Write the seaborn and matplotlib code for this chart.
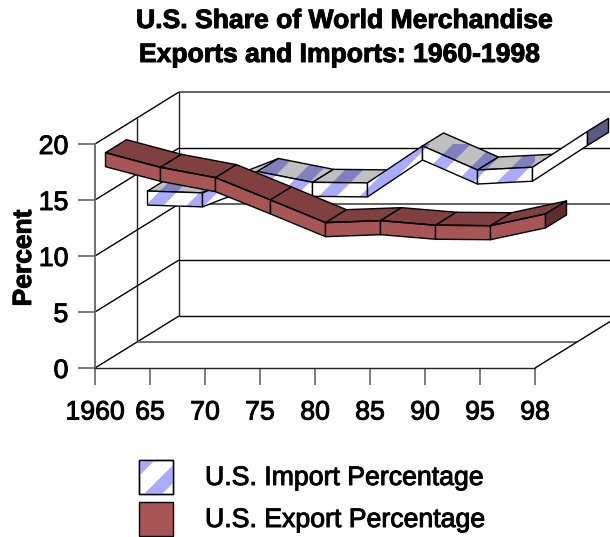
import matplotlib
matplotlib.use('Agg')
import matplotlib.pyplot as plt
import matplotlib.patheffects as pe
from matplotlib.patches import Polygon, PathPatch, Rectangle
from matplotlib.path import Path
from matplotlib.transforms import IdentityTransform
import numpy as np
import pandas as pd
import seaborn as sns

year_labels = ['1960', '65', '70', '75', '80', '85', '90', '95', '98']
import_share = [12.27, 12.11, 14.02, 13.05, 13.0, 16.3, 14.15, 14.4, 17.6]
export_share = [18.02, 16.71, 15.79, 13.8, 11.77, 11.95, 11.54, 11.5, 12.55]
y_ticks = [0, 5, 10, 15, 20]
legend_labels = ['U.S. Import Percentage', 'U.S. Export Percentage']

W, H = 610, 537
PX_X, PX_Y = 55.0, 11.2          # pixels per category / per percent
DEPTH_X, DEPTH_Y = 84 / PX_X, 52 / PX_Y   # whole chart depth in data units
THICK = 0.625

sns.set_theme(style='white')
plt.rcParams['font.family'] = ['Liberation Sans', 'DejaVu Sans']
plt.rcParams['text.color'] = 'black'
plt.rcParams['axes.labelcolor'] = 'black'
plt.rcParams['xtick.color'] = 'black'
plt.rcParams['ytick.color'] = 'black'

HEAVY = [pe.withStroke(linewidth=0.7, foreground='black')]

fig = plt.figure(figsize=(W / 100, H / 100), dpi=100)
ax = fig.add_axes([95 / W, (H - 368) / H, 440 / W, 224 / H])
ax.set_xlim(0, 8)
ax.set_ylim(0, 20)


def project(x, y, d):
    return (x + d * DEPTH_X, y + d * DEPTH_Y)


def wall_line(x, y, color='#000000', lw=1.0):
    ax.plot(x, y, color=color, lw=lw, clip_on=False, zorder=1, solid_capstyle='butt')


# walls and gridlines
for v in y_ticks:
    x0, y0 = project(0, v, 0)
    x1, y1 = project(0, v, 1)
    wall_line([x0, x1], [y0, y1])
    if v > 0:
        c = '#555555' if v in (10, 20) else '#000000'
        wall_line([x1, x1 + 9], [y1, y1], color=c, lw=1.3 if v in (10, 20) else 1.0)
for d in (0.5, 1):
    x0, y0 = project(0, 0, d)
    x1, y1 = project(0, 20, d)
    wall_line([x0, x1], [y0, y1], color='#222222')
xm, ym = project(0, 0, 0.5)
wall_line([xm, xm + 8], [ym, ym], color='#666666', lw=1.3)
xb, yb = project(0, 0, 1)
wall_line([xb, xb + 9], [yb, yb])
xr, yr = project(8, 0, 0.9)
wall_line([8, xr], [0, yr])


def stripes():
    verts, codes = [], []
    for s in np.arange(360 - 41 * 6, 1200, 41):
        a, b = s - 9, s + 9
        pts = [(0, a), (0, b), (W, b - W), (W, a - W), (0, a)]
        verts += [(px, H - py) for px, py in pts]
        codes += [Path.MOVETO, Path.LINETO, Path.LINETO, Path.LINETO, Path.CLOSEPOLY]
    return Path(verts, codes)


STRIPE_PATH = stripes()


def face(pts, fill, stripe, z):
    p = Polygon(pts, closed=True, facecolor=fill, edgecolor='none', clip_on=False, zorder=z)
    ax.add_patch(p)
    if stripe is not None:
        sp = PathPatch(STRIPE_PATH, facecolor=stripe, edgecolor='none',
                       transform=IdentityTransform(), zorder=z)
        ax.add_patch(sp)
        sp.set_clip_path(p)
    edge = Polygon(pts, closed=True, facecolor='none', edgecolor='black', lw=1.0,
                   clip_on=False, zorder=z, joinstyle='round')
    ax.add_patch(edge)


def ribbon(values, d0, d1, colors, z):
    front, top, cap = colors
    for i in range(len(values) - 1):
        a, b = values[i], values[i + 1]
        f0 = project(i, a + THICK, d0)
        f1 = project(i + 1, b + THICK, d0)
        b0 = project(i, a + THICK, d1)
        b1 = project(i + 1, b + THICK, d1)
        g0 = project(i, a - THICK, d0)
        g1 = project(i + 1, b - THICK, d0)
        # top face turns away from the viewer when the rise is steeper than the depth
        rise_px = (b - a) * PX_Y
        if rise_px < PX_X * 52 / 84:
            face([f0, f1, b1, b0], top[0], top[1], z)
        face([f0, f1, g1, g0], front[0], front[1], z)
    n = len(values) - 1
    v = values[n]
    face([project(n, v + THICK, d0), project(n, v + THICK, d1),
          project(n, v - THICK, d1), project(n, v - THICK, d0)], cap[0], cap[1], z)


ribbon(import_share, 0.625, 0.875,
       (('white', '#AAAAFF'), ('#C0C0C0', '#8080C0'), ('#5A5A82', '#50507A')), 3)
ribbon(export_share, 0.125, 0.375,
       (('#A85555', None), ('#804040', None), ('#5C2E2E', None)), 4)

# front edge of the export ribbon through seaborn
df = pd.DataFrame({'pos': [project(i, v + THICK, 0.125)[0] for i, v in enumerate(export_share)],
                   'edge': [project(i, v + THICK, 0.125)[1] for i, v in enumerate(export_share)]})
sns.lineplot(data=df, x='pos', y='edge', color='black', lw=1.0, ax=ax, legend=False,
             clip_on=False, zorder=5, sort=False)

ax.set_xlabel('')
ax.set_ylabel('Percent', fontsize=19, fontweight='bold', path_effects=HEAVY)
ax.yaxis.set_label_coords((36 - 95) / 440, (368 - 258) / 224)

ax.set_xticks(range(len(year_labels)))
ax.set_xticklabels(year_labels, fontsize=19.2, path_effects=HEAVY)
ax.set_yticks(y_ticks)
ax.tick_params(axis='y', labelsize=19.2, length=12.2, width=1.2, color='#666666', pad=7, left=True)
ax.tick_params(axis='x', length=12.2, width=1.2, color='#666666', pad=10.5, bottom=True)
for t in ax.get_yticklabels():
    t.set_path_effects(HEAVY)

for name in ('top', 'right'):
    ax.spines[name].set_visible(False)
ax.spines['left'].set_color('#666666')
ax.spines['left'].set_linewidth(1.3)
ax.spines['bottom'].set_color('#222222')
ax.spines['bottom'].set_linewidth(1.0)
ax.patch.set_alpha(0)

fig.text(344 / W, 1 - 21 / H, 'U.S. Share of World Merchandise', fontsize=19.1, fontweight='bold',
         ha='center', va='center', path_effects=HEAVY)
fig.text(339 / W, 1 - 55 / H, 'Exports and Imports: 1960-1998', fontsize=19.1, fontweight='bold',
         ha='center', va='center', path_effects=HEAVY)

# legend swatches
for ypix, fill, stripe, label in [(460, 'white', '#AAAAFF', legend_labels[0]),
                                  (502, '#A85555', None, legend_labels[1])]:
    r = Rectangle((139, H - ypix - 34), 34, 34, facecolor=fill, edgecolor='black', lw=1.0,
                  transform=IdentityTransform(), clip_on=False, zorder=6)
    fig.add_artist(r)
    if stripe is not None:
        sp = PathPatch(STRIPE_PATH, facecolor=stripe, edgecolor='none',
                       transform=IdentityTransform(), zorder=6)
        fig.add_artist(sp)
        sp.set_clip_path(r)
        r2 = Rectangle((139, H - ypix - 34), 34, 34, facecolor='none', edgecolor='black', lw=1.0,
                       transform=IdentityTransform(), zorder=7)
        fig.add_artist(r2)
    fig.text(205 / W, 1 - (ypix + 18) / H, label, fontsize=19.2, ha='left', va='center',
             path_effects=HEAVY)

fig.savefig('out.png', dpi=100)
